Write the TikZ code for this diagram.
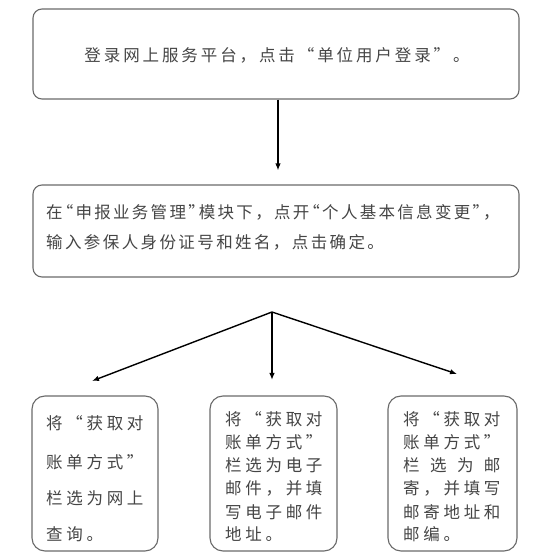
\documentclass[tikz,border=0pt]{standalone}
\usepackage{fontspec}
\newfontfamily\cjk{Noto Sans CJK SC}
\usetikzlibrary{arrows.meta}
\definecolor{txtc}{HTML}{454545}
\definecolor{frame}{HTML}{6A6A6A}
\newlength\chsp
\makeatletter
\newcommand\spc[2]{\setlength\chsp{#1}\spc@#2\relax}
\def\spc@#1{\ifx\relax#1\else#1\kern\chsp\expandafter\spc@\fi}
\makeatother
\newcommand\myqo{\makebox[1em][c]{“}}
\newcommand\myqc{\makebox[1em][c]{”}}
\newcommand\hqo{\makebox[0.5em][r]{“}}
\newcommand\hqc{\makebox[0.5em][l]{”}}
\begin{document}
\begin{tikzpicture}[x=1pt,y=-1pt,
  box/.style={draw=frame, line width=1.1pt, rounded corners=9pt, inner sep=0pt},
  sbox/.style={draw=frame, line width=1.1pt, rounded corners=13pt, inner sep=0pt},
  txt/.style={anchor=base west, inner sep=0pt, text=txtc, font=\cjk\fontsize{16.5}{19}\selectfont},
  arr/.style={-{Latex[length=7pt,width=5.5pt]}, line width=1.4pt, black}]
\useasboundingbox (0,0) rectangle (558,553);
\fill[white] (0,0) rectangle (558,553);
% boxes
\node[box, minimum width=486pt, minimum height=90pt] (b1) at (276,54) {};
\node[box, minimum width=486pt, minimum height=92pt] (b2) at (276,231) {};
\node[sbox, minimum width=126pt, minimum height=155pt] (bl) at (95,473.5) {};
\node[sbox, minimum width=127pt, minimum height=155pt] (bm) at (273.5,473.5) {};
\node[sbox, minimum width=129pt, minimum height=155pt] (br) at (452.5,473.5) {};
% texts
\node[txt, anchor=base] (t1) at (278.5,61.3) {\spc{2.9pt}{登录网上服务平台，点击\myqo 单位用户登录\myqc 。}};
\node[txt] (t2a) at (46,218.3) {\spc{2.3pt}{在\hqo 申报业务管理\hqc 模块下，点开\hqo 个人基本信息变更\hqc ，}};
\node[txt] (t2b) at (46,248.3) {\spc{2.4pt}{输入参保人身份证号和姓名，点击确定。}};
% left
\node[txt] (l1) at (46,429.3) {\spc{3.7pt}{将\myqo 获取对}};
\node[txt] (l2) at (46,468.3) {\spc{3.7pt}{账单方式\myqc}};
\node[txt] (l3) at (46,504.3) {\spc{3.7pt}{栏选为网上}};
\node[txt] (l4) at (46,540.3) {\spc{3.7pt}{查询。}};
% middle
\node[txt] (m1) at (225,425.3) {\spc{3.7pt}{将\myqo 获取对}};
\node[txt] (m2) at (225,448.3) {\spc{3.7pt}{账单方式\myqc}};
\node[txt] (m3) at (225,471.3) {\spc{3.7pt}{栏选为电子}};
\node[txt] (m4) at (225,494.3) {\spc{3.7pt}{邮件，并填}};
\node[txt] (m5) at (225,518.3) {\spc{3.7pt}{写电子邮件}};
\node[txt] (m6) at (225,540.3) {\spc{3.7pt}{地址。}};
% right
\node[txt] (r1) at (403,425.3) {\spc{3.7pt}{将\myqo 获取对}};
\node[txt] (r2) at (403,448.3) {\spc{3.7pt}{账单方式\myqc}};
\node[txt] (r3) at (403,471.3) {\makebox[97.3pt][s]{栏\hfill 选\hfill 为\hfill 邮}};
\node[txt] (r4) at (403,494.3) {\spc{3.7pt}{寄，并填写}};
\node[txt] (r5) at (403,518.3) {\spc{3.7pt}{邮寄地址和}};
\node[txt] (r6) at (403,540.3) {\spc{3.7pt}{邮编。}};
% connectors
\coordinate (fork) at (272,312);
\coordinate (tipL) at (92,381);
\coordinate (tipM) at (272,380);
\coordinate (tipR) at (457,374);
\draw[arr, shorten >=14pt] ([xshift=2pt]b1.south) -- ([xshift=2pt]b2.north);
\draw[arr] (fork) -- (tipL);
\draw[arr] (fork) -- (tipM);
\draw[arr] (fork) -- (tipR);
\end{tikzpicture}
\end{document}
